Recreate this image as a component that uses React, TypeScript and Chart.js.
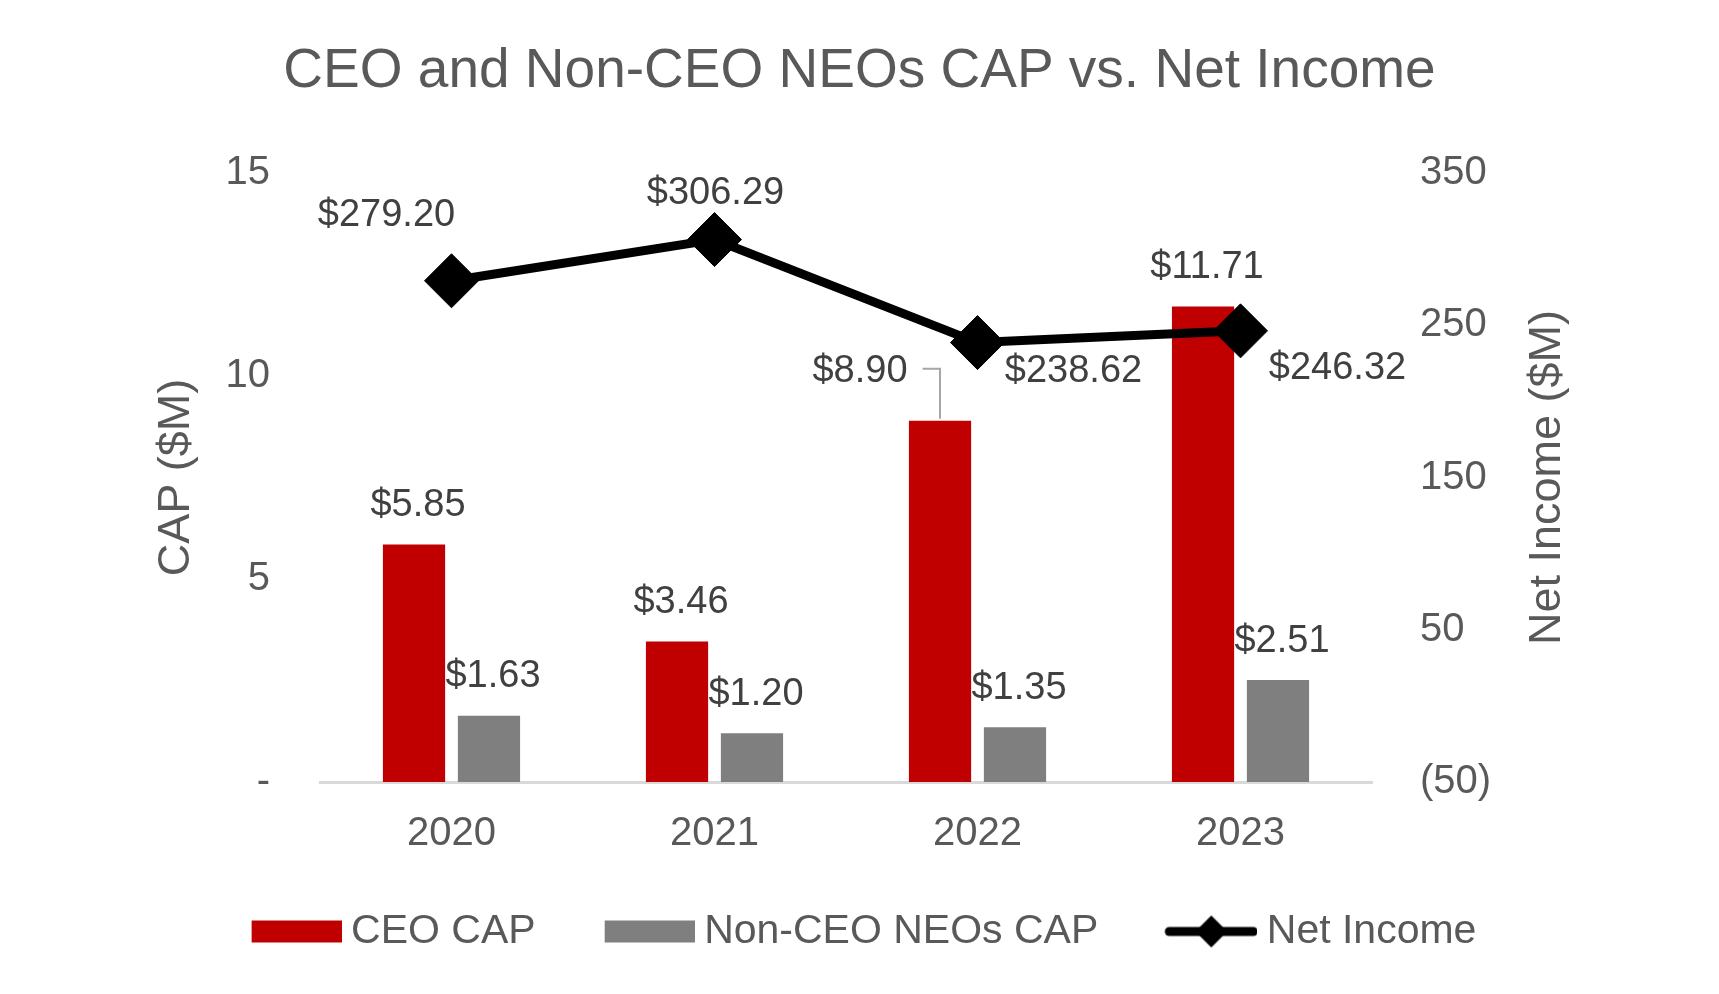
import { useEffect, useRef } from 'react';
import { Chart, registerables } from 'chart.js';

Chart.register(...registerables);

const categories = ['2020', '2021', '2022', '2023'];
const ceoCap = [5.85, 3.46, 8.9, 11.71];
const neoCap = [1.63, 1.2, 1.35, 2.51];
const netIncome = [279.2, 306.29, 238.62, 246.32];
const leftTickValues = [0, 5, 10, 15];
const leftTickLabels = ['-', '5', '10', '15'];
const rightTickValues = [-50, 50, 150, 250, 350];
const rightTickLabels = ['(50)', '50', '150', '250', '350'];

const RED = '#C00000';
const GRAY = '#7F7F7F';
const TEXT = '#595959';
const LABEL = '#404040';
const FONT = '"Liberation Sans", Arial, sans-serif';

type Off = { dx: number; dy: number; leader?: boolean };
const ceoLabelOffsets: Off[] = [
  { dx: 4, dy: -39 },
  { dx: 4, dy: -39 },
  { dx: -80, dy: -49, leader: true },
  { dx: 4, dy: -39 },
];
const neoLabelOffsets: Off[] = [
  { dx: 4, dy: -39 },
  { dx: 4, dy: -39 },
  { dx: 4, dy: -39 },
  { dx: 4, dy: -39 },
];
const netLabelOffsets: Off[] = [
  { dx: -65, dy: -65 },
  { dx: 1, dy: -46 },
  { dx: 96, dy: 29 },
  { dx: 97, dy: 38 },
];

const fmt = (v: number) => `$${v.toFixed(2)}`;

const valueLabels = {
  id: 'valueLabels',
  afterDatasetsDraw(chart: any) {
    const ctx = chart.ctx as CanvasRenderingContext2D;
    ctx.save();
    ctx.font = `38px ${FONT}`;
    ctx.textAlign = 'center';
    ctx.textBaseline = 'middle';
    const sets: [number, Off[]][] = [
      [0, ceoLabelOffsets],
      [1, neoLabelOffsets],
      [2, netLabelOffsets],
    ];
    sets.forEach(([di, offs]) => {
      const meta = chart.getDatasetMeta(di);
      meta.data.forEach((el: any, i: number) => {
        const v = chart.data.datasets[di].data[i] as number;
        const o = offs[i];
        const x = el.x + o.dx;
        const y = el.y + o.dy;
        ctx.fillStyle = LABEL;
        ctx.fillText(fmt(v), x, y);
        if (o.leader) {
          const w = ctx.measureText(fmt(v)).width;
          ctx.strokeStyle = '#A6A6A6';
          ctx.lineWidth = 2;
          ctx.beginPath();
          ctx.moveTo(x + w / 2 + 15, y - 3);
          ctx.lineTo(el.x, y - 3);
          ctx.lineTo(el.x, el.y - 2);
          ctx.stroke();
        }
      });
    });
    ctx.restore();
  },
};

const rightTitle = {
  id: 'rightTitle',
  afterDraw(chart: any) {
    const s = chart.scales.y1;
    const ctx = chart.ctx as CanvasRenderingContext2D;
    ctx.save();
    ctx.font = `45px ${FONT}`;
    ctx.fillStyle = TEXT;
    ctx.textAlign = 'center';
    ctx.textBaseline = 'middle';
    ctx.translate(s.left + 176, (s.top + s.bottom) / 2);
    ctx.rotate(-Math.PI / 2);
    ctx.fillText('Net Income ($M)', 0, 0);
    ctx.restore();
  },
};

// Legend icons: canvas 110 wide, visual content in [20, 110] so it sits just before the text.
function makeIcon(draw: (c: CanvasRenderingContext2D) => void) {
  const icon = document.createElement('canvas');
  icon.width = 110;
  icon.height = 40;
  const c = icon.getContext('2d')!;
  draw(c);
  return icon;
}

export default function App() {
  const ref = useRef<HTMLCanvasElement | null>(null);

  useEffect(() => {
    if (!ref.current) return;
    document.body.style.margin = '0';

    const redIcon = makeIcon((c) => {
      c.fillStyle = RED;
      c.fillRect(20, 9, 90, 22);
    });
    const grayIcon = makeIcon((c) => {
      c.fillStyle = GRAY;
      c.fillRect(20, 9, 90, 22);
    });
    const lineIcon = makeIcon((c) => {
      c.strokeStyle = '#000';
      c.lineWidth = 9;
      c.lineCap = 'round';
      c.beginPath();
      c.moveTo(22, 20);
      c.lineTo(106, 20);
      c.stroke();
      c.fillStyle = '#000';
      c.beginPath();
      c.moveTo(64, 4);
      c.lineTo(80, 20);
      c.lineTo(64, 36);
      c.lineTo(48, 20);
      c.closePath();
      c.fill();
    });

    const chart = new Chart(ref.current, {
      type: 'bar',
      data: {
        labels: categories,
        datasets: [
          {
            type: 'bar',
            label: 'CEO CAP',
            data: ceoCap,
            backgroundColor: RED,
            yAxisID: 'y',
            order: 2,
            categoryPercentage: 0.57,
            barPercentage: 0.83,
          },
          {
            type: 'bar',
            label: 'Non-CEO NEOs CAP',
            data: neoCap,
            backgroundColor: GRAY,
            yAxisID: 'y',
            order: 2,
            categoryPercentage: 0.57,
            barPercentage: 0.83,
          },
          {
            type: 'line',
            label: 'Net Income',
            data: netIncome,
            yAxisID: 'y1',
            borderColor: '#000',
            backgroundColor: '#000',
            borderWidth: 9,
            pointStyle: 'rectRot',
            pointRadius: 27,
            pointBackgroundColor: '#000',
            pointBorderColor: '#000',
            pointBorderWidth: 1,
            tension: 0,
            order: 0,
          } as any,
        ],
      },
      options: {
        animation: false,
        responsive: true,
        maintainAspectRatio: false,
        events: [],
        font: { family: FONT },
        layout: { padding: { left: 0, right: 0, top: 0, bottom: 32 } },
        plugins: {
          tooltip: { enabled: false },
          title: {
            display: true,
            text: 'CEO and Non-CEO NEOs CAP vs. Net Income',
            color: TEXT,
            font: { size: 55, weight: 'normal', family: FONT },
            padding: { top: 39, bottom: 68 },
          },
          legend: {
            position: 'bottom',
            labels: {
              usePointStyle: true,
              pointStyleWidth: 88,
              boxWidth: 88,
              boxHeight: 22,
              padding: 60,
              color: TEXT,
              font: { size: 41, family: FONT },
              generateLabels: () =>
                [
                  { text: 'CEO CAP', fillStyle: RED, strokeStyle: RED, lineWidth: 0, pointStyle: redIcon, rotation: 0, hidden: false, datasetIndex: 0, fontColor: TEXT },
                  { text: 'Non-CEO NEOs CAP', fillStyle: GRAY, strokeStyle: GRAY, lineWidth: 0, pointStyle: grayIcon, rotation: 0, hidden: false, datasetIndex: 1, fontColor: TEXT },
                  { text: 'Net Income', fillStyle: '#000', strokeStyle: '#000', lineWidth: 0, pointStyle: lineIcon, rotation: 0, hidden: false, datasetIndex: 2, fontColor: TEXT },
                ] as any,
            },
          },
        },
        scales: {
          x: {
            grid: { display: false, drawTicks: false },
            border: { display: true, color: '#D9D9D9', width: 3 },
            ticks: { color: TEXT, font: { size: 40, family: FONT }, padding: 28 },
            afterFit: (s: any) => {
              s.height = 69;
            },
          },
          y: {
            position: 'left',
            min: 0,
            max: 15,
            grid: { display: false, drawTicks: false },
            border: { display: false },
            ticks: {
              stepSize: 5,
              color: TEXT,
              font: { size: 40, family: FONT },
              padding: 50,
              callback: (v: any) => {
                const i = leftTickValues.indexOf(Number(v));
                return i >= 0 ? leftTickLabels[i] : '';
              },
            },
            title: {
              display: true,
              text: 'CAP ($M)',
              color: TEXT,
              font: { size: 45, family: FONT },
              padding: { top: 150, bottom: 0 },
            },
            afterFit: (s: any) => {
              s.width = 320;
            },
          },
          y1: {
            position: 'right',
            min: -50,
            max: 350,
            grid: { display: false, drawTicks: false },
            border: { display: false },
            ticks: {
              stepSize: 100,
              color: TEXT,
              font: { size: 40, family: FONT },
              padding: 48,
              callback: (v: any) => {
                const i = rightTickValues.indexOf(Number(v));
                return i >= 0 ? rightTickLabels[i] : '';
              },
            },
            afterFit: (s: any) => {
              s.width = 347;
            },
          },
        },
      },
      plugins: [valueLabels, rightTitle],
    });

    return () => {
      chart.destroy();
    };
  }, []);

  return (
    <div style={{ position: 'fixed', left: 0, top: 0, width: 1719, height: 994, background: '#fff' }}>
      <canvas ref={ref} />
    </div>
  );
}
